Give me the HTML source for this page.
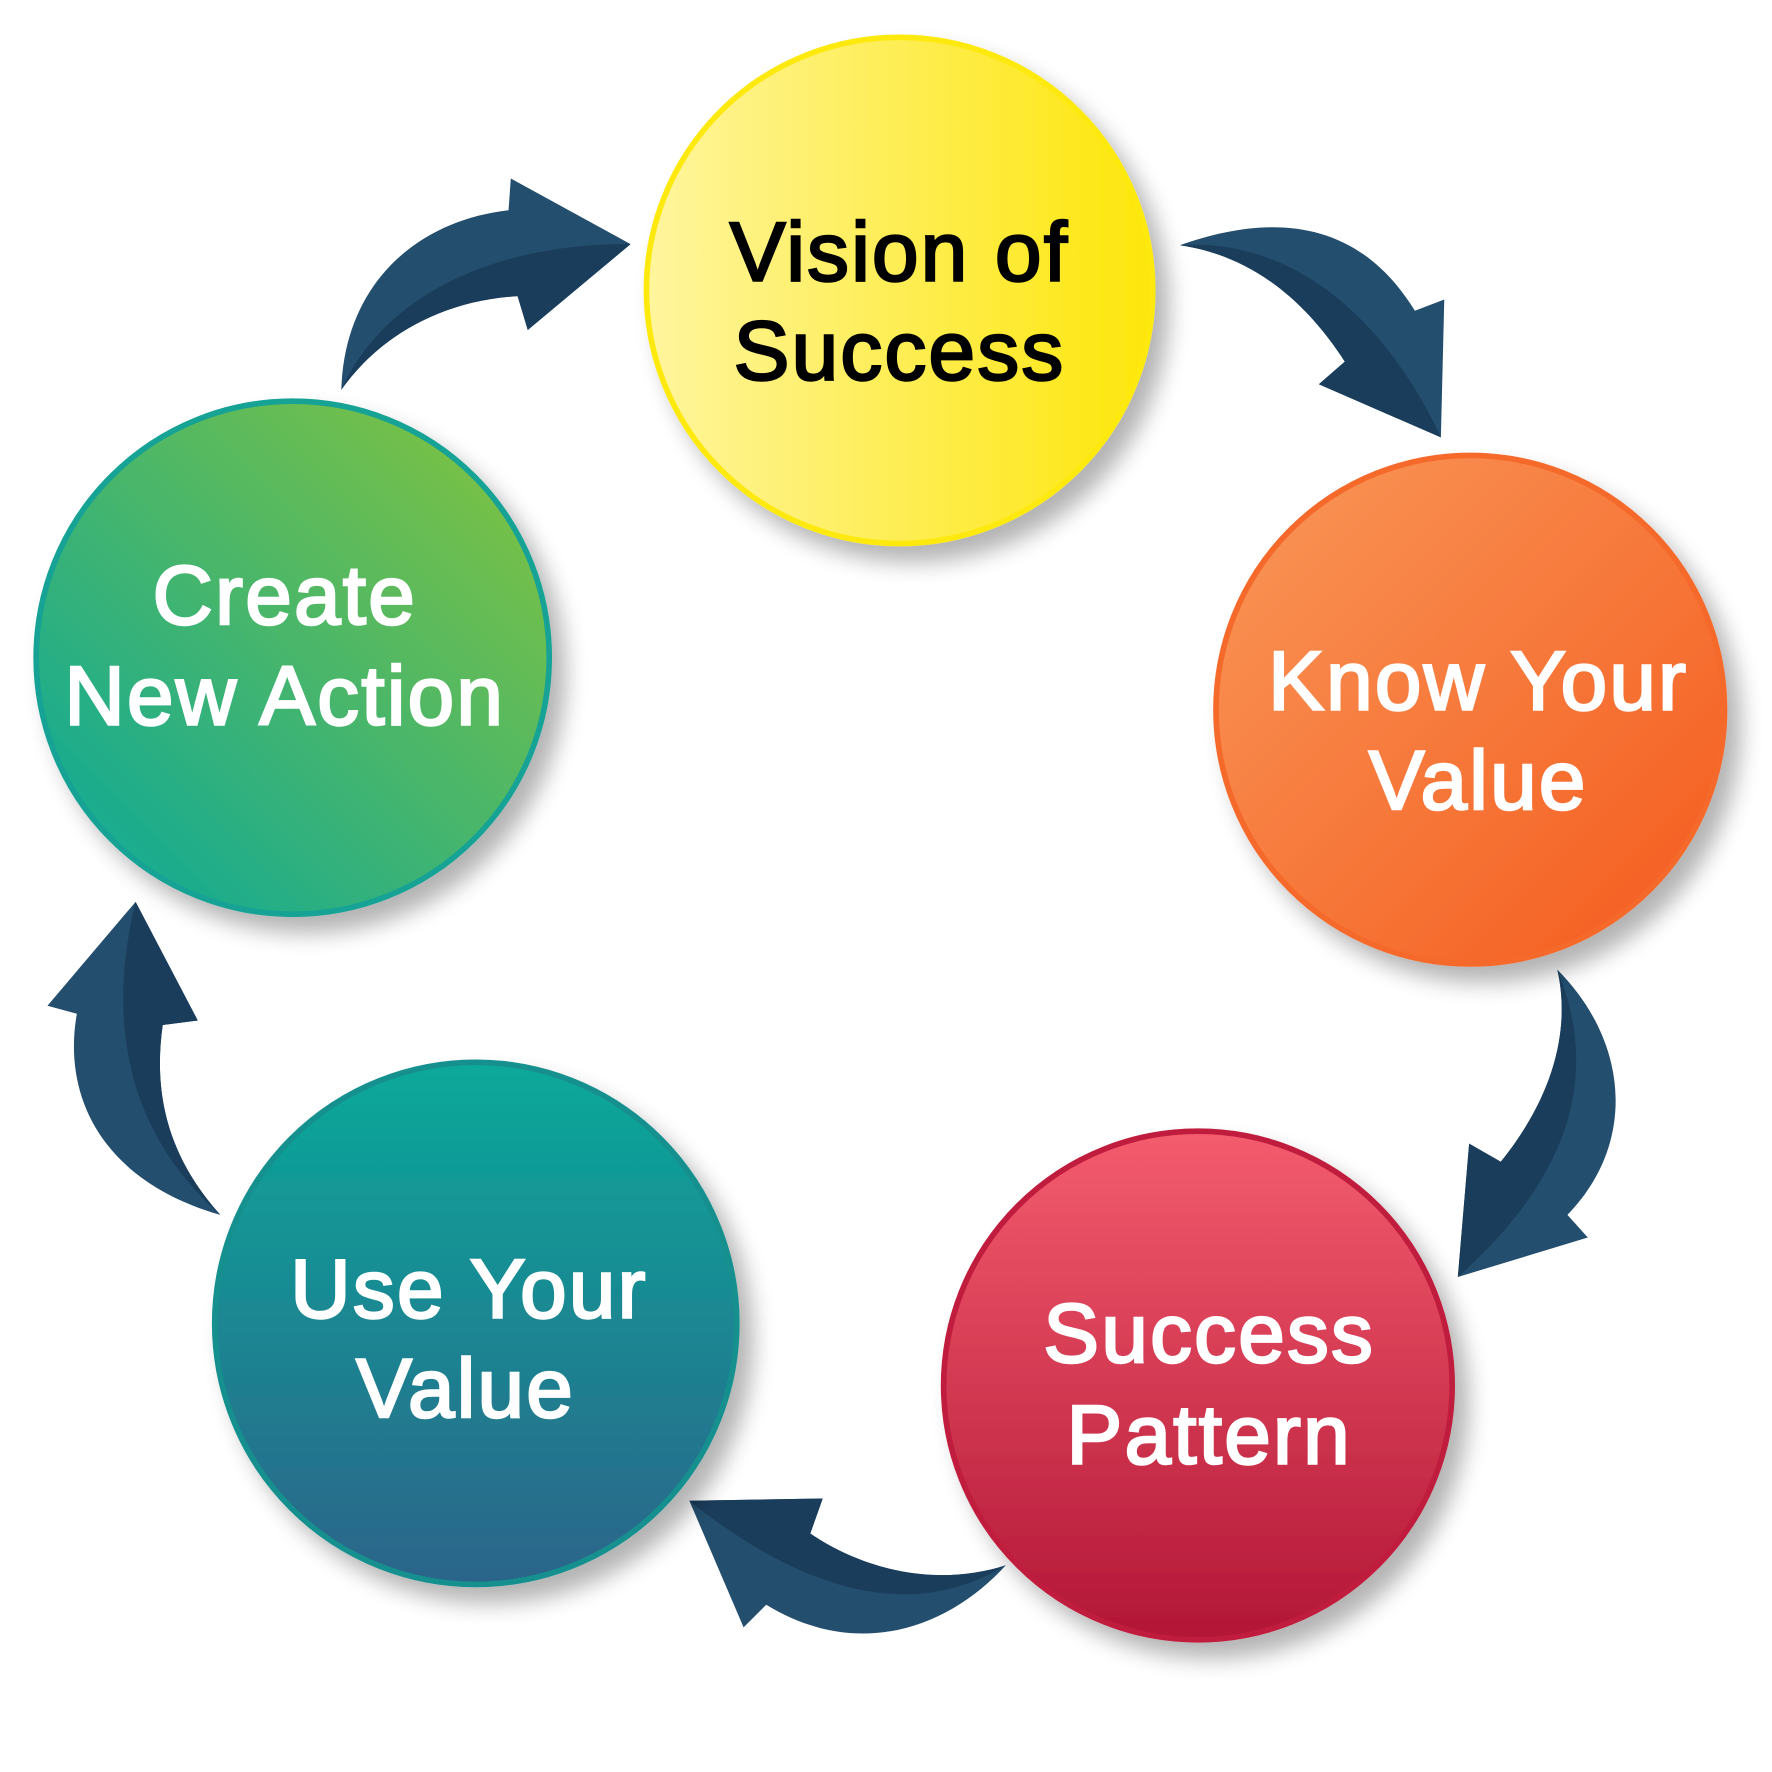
<!DOCTYPE html>
<html><head><meta charset="utf-8"><style>
html,body{margin:0;padding:0;background:#fff}
svg{display:block}
text{font-family:"Liberation Sans",Arial,sans-serif;font-weight:normal;font-size:74px;text-anchor:middle;letter-spacing:2px;stroke-width:2.2px;paint-order:stroke}
</style></head><body>
<svg width="1772" height="1772" viewBox="0 0 1568 1568" xmlns="http://www.w3.org/2000/svg">
<defs>
<linearGradient id="gy" x1="0" y1="0" x2="1" y2="0"><stop offset="0" stop-color="#fff59e"/><stop offset="1" stop-color="#fde60a"/></linearGradient>
<linearGradient id="go" x1="0" y1="0" x2="1" y2="1"><stop offset="0" stop-color="#f9985a"/><stop offset="1" stop-color="#f45a1c"/></linearGradient>
<linearGradient id="gr" x1="0" y1="0" x2="0" y2="1"><stop offset="0" stop-color="#f45c6e"/><stop offset="1" stop-color="#b21636"/></linearGradient>
<linearGradient id="gt" x1="0" y1="0" x2="0" y2="1"><stop offset="0" stop-color="#0aa99a"/><stop offset="1" stop-color="#2c648a"/></linearGradient>
<linearGradient id="gg" x1="1" y1="0" x2="0" y2="1"><stop offset="0" stop-color="#88c43a"/><stop offset="1" stop-color="#06a79e"/></linearGradient>
<filter id="sh" x="-20%" y="-20%" width="150%" height="150%"><feGaussianBlur in="SourceAlpha" stdDeviation="10"/><feOffset dx="12" dy="14"/><feComponentTransfer><feFuncA type="linear" slope="0.3"/></feComponentTransfer><feMerge><feMergeNode/><feMergeNode in="SourceGraphic"/></feMerge></filter>
</defs>
<g fill="#234e6e">
<path d="M302,345 C305,250 370,195 450,186 L452,158 L558,216 L467,292 L458,262 C390,266 335,298 302,345 Z"/>
<path d="M1044,217 C1120,190 1200,190 1252,275 L1278,265 L1275,387 L1167,340 L1190,320 C1150,258 1100,225 1044,217 Z"/>
<path d="M1378,858 C1440,920 1450,1010 1387,1075 L1405,1095 L1290,1130 L1300,1012 L1328,1028 C1375,970 1390,910 1378,858 Z"/>
<path d="M890,1385 C840,1440 760,1470 678,1420 L658,1440 L610,1328 L728,1326 L717,1357 C770,1393 835,1403 890,1385 Z"/>
<path d="M195,1075 C90,1045 55,970 68,897 L42,890 L120,798 L175,903 L144,907 C135,970 150,1025 195,1075 Z"/>
</g>
<g fill="#1b3d5c">
<path d="M302,345 C340,260 440,215 558,216 L467,292 L458,262 C390,266 335,298 302,345 Z"/>
<path d="M1044,217 C1150,210 1230,290 1275,387 L1167,340 L1190,320 C1150,258 1100,225 1044,217 Z"/>
<path d="M1378,858 C1420,960 1380,1050 1290,1130 L1300,1012 L1328,1028 C1375,970 1390,910 1378,858 Z"/>
<path d="M890,1385 C800,1440 700,1400 610,1328 L728,1326 L717,1357 C770,1393 835,1403 890,1385 Z"/>
<path d="M195,1075 C110,1000 95,900 120,798 L175,903 L144,907 C135,970 150,1025 195,1075 Z"/>
</g>
<g filter="url(#sh)">
<circle cx="796" cy="257" r="224" fill="url(#gy)" stroke="#fde910" stroke-width="5"/>
<circle cx="1301" cy="628" r="225" fill="url(#go)" stroke="#f5692a" stroke-width="5"/>
<circle cx="1060" cy="1226" r="225" fill="url(#gr)" stroke="#c01f3d" stroke-width="5"/>
<circle cx="421" cy="1171" r="231" fill="url(#gt)" stroke="#16908f" stroke-width="5"/>
<circle cx="259" cy="582" r="227" fill="url(#gg)" stroke="#17a294" stroke-width="5"/>
</g>
<g fill="#000" stroke="#000">
<text x="796" y="248">Vision of</text>
<text x="796" y="336">Success</text>
</g>
<g fill="#fff" stroke="#fff">
<text x="1308" y="628">Know Your</text>
<text x="1308" y="716">Value</text>
<text x="1070" y="1205">Success</text>
<text x="1070" y="1295">Pattern</text>
<text x="415" y="1166">Use Your</text>
<text x="412" y="1254">Value</text>
<text x="252" y="552">Create</text>
<text x="252" y="641">New Action</text>
</g>
</svg>
</body></html>
